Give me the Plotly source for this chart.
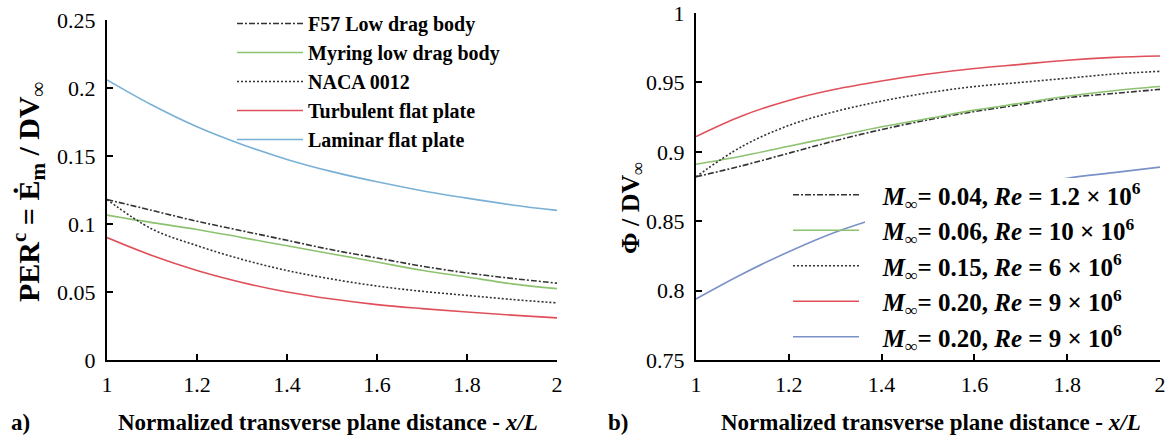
import plotly.graph_objects as go

W, H = 1172, 441
SERIF = "Liberation Serif, Times New Roman, serif"

# ---------------- data ----------------
x_vals = [1.0, 1.1, 1.2, 1.3, 1.4, 1.5, 1.6, 1.7, 1.8, 1.9, 2.0]

# panel a) PER^c
per_f57 = [0.118, 0.110, 0.102, 0.095, 0.088, 0.081, 0.075, 0.069, 0.064, 0.060, 0.0565]
per_myring = [0.1065, 0.101, 0.096, 0.090, 0.084, 0.078, 0.072, 0.066, 0.061, 0.056, 0.0525]
per_naca = [0.118, 0.0963, 0.0841, 0.0740, 0.0658, 0.0595, 0.0544, 0.0505, 0.0475, 0.0445, 0.042]
per_turb = [0.090, 0.0768, 0.0658, 0.057, 0.050, 0.0448, 0.0407, 0.0378, 0.0353, 0.033, 0.031]
per_lam = [0.206, 0.1875, 0.1715, 0.1585, 0.1475, 0.1385, 0.131, 0.1245, 0.119, 0.114, 0.110]

# panel b) Phi / DV
phi_m004 = [0.882, 0.890, 0.899, 0.908, 0.916, 0.923, 0.929, 0.934, 0.939, 0.942, 0.945]
phi_m006 = [0.891, 0.897, 0.904, 0.911, 0.918, 0.924, 0.930, 0.935, 0.940, 0.944, 0.947]
phi_m015 = [0.882, 0.904, 0.919, 0.929, 0.9365, 0.9425, 0.947, 0.950, 0.953, 0.956, 0.958]
phi_m020_red = [0.911, 0.926, 0.937, 0.945, 0.951, 0.956, 0.960, 0.963, 0.966, 0.968, 0.969]
phi_m020_blue = [0.794, 0.812, 0.828, 0.842, 0.853, 0.862, 0.870, 0.876, 0.881, 0.885, 0.889]

names_a = ["F57 Low drag body", "Myring low drag body", "NACA 0012",
           "Turbulent flat plate", "Laminar flat plate"]
names_b = [("0.04", "1.2"), ("0.06", "10"), ("0.15", "6"), ("0.20", "9"), ("0.20", "9")]

DASHDOT = "6px,2px,2px,2px"
DOT = "2px,2px"
styles = [
    dict(color="#333333", dash=DASHDOT, width=1.6),
    dict(color="#8dc26f", dash="solid", width=1.6),
    dict(color="#333333", dash=DOT, width=1.6),
    dict(color="#e0505a", dash="solid", width=1.6),
    dict(color="#79b0d6", dash="solid", width=1.6),
]
styles_b = [dict(s) for s in styles]
styles_b[4]["color"] = "#7a92c8"

fig = go.Figure()

series_a = [per_f57, per_myring, per_naca, per_turb, per_lam]
for name, ys, st in zip(names_a, series_a, styles):
    fig.add_trace(go.Scatter(
        x=x_vals, y=ys, mode="lines", line=dict(shape="spline", **st),
        name="<b>" + name + "</b>", xaxis="x", yaxis="y", legend="legend"))

series_b = [phi_m004, phi_m006, phi_m015, phi_m020_red, phi_m020_blue]
for (m, re), ys, st in zip(names_b, series_b, styles_b):
    label = ("\u00a0\u00a0\u00a0<b><i>M</i><sub>\u221e</sub>= " + m + ", <i>Re</i> = "
             + re + " \u00d7 10<sup>6</sup></b>")
    fig.add_trace(go.Scatter(
        x=x_vals, y=ys, mode="lines", line=dict(shape="spline", **st),
        name=label, xaxis="x2", yaxis="y2", legend="legend2"))

ax_common = dict(
    showline=True, linecolor="black", linewidth=2, showgrid=False, zeroline=False,
    ticks="inside", ticklen=6, tickwidth=2, tickcolor="black", automargin=False,
    tickfont=dict(family=SERIF, size=22, color="black"),
)

ydom = [(H - 360) / H, (H - 20) / H]
ydom2 = [(H - 360) / H, (H - 13) / H]

fig.update_layout(
    template="none",
    width=W, height=H,
    margin=dict(l=0, r=0, t=0, b=0, pad=0),
    paper_bgcolor="white", plot_bgcolor="white",
    showlegend=True,
    xaxis=dict(domain=[107 / W, 557 / W], range=[1, 2], dtick=0.2, anchor="y",
               ticklabelstandoff=4, **ax_common),
    yaxis=dict(domain=ydom, range=[0, 0.25], dtick=0.05, anchor="x",
               ticklabelstandoff=5, **ax_common),
    xaxis2=dict(domain=[696 / W, 1160 / W], range=[1, 2], dtick=0.2, anchor="y2",
                ticklabelstandoff=4, **ax_common),
    yaxis2=dict(domain=ydom2, range=[0.75, 1.0], dtick=0.05, anchor="x2",
                ticklabelstandoff=5, **ax_common),
    legend=dict(x=232 / W, y=1 - 4 / H, xanchor="left", yanchor="top",
                bgcolor="rgba(0,0,0,0)", borderwidth=0, itemwidth=66,
                font=dict(family=SERIF, size=20, color="black")),
    legend2=dict(x=788 / W, y=1 - 172 / H, xanchor="left", yanchor="top",
                 bgcolor="rgba(0,0,0,0)", borderwidth=0, itemwidth=66,
                 font=dict(family=SERIF, size=25, color="black")),
    shapes=[dict(type="rect", xref="paper", yref="paper",
                 x0=865 / W, x1=1136 / W, y0=(H - 352) / H, y1=(H - 178) / H,
                 fillcolor="white", line=dict(width=0), layer="above")],
)

title_font = dict(family=SERIF, size=23, color="black")
xt = "<b>Normalized transverse plane distance - <i>x/L</i></b>"
annots = [
    dict(text=xt, xref="paper", yref="paper", x=328 / W, y=(H - 422) / H,
         showarrow=False, font=title_font, xanchor="center", yanchor="middle"),
    dict(text=xt, xref="paper", yref="paper", x=931 / W, y=(H - 422) / H,
         showarrow=False, font=title_font, xanchor="center", yanchor="middle"),
    dict(text="<b>a)</b>", xref="paper", yref="paper", x=20 / W, y=(H - 422) / H,
         showarrow=False, font=title_font, xanchor="center", yanchor="middle"),
    dict(text="<b>b)</b>", xref="paper", yref="paper", x=618 / W, y=(H - 422) / H,
         showarrow=False, font=title_font, xanchor="center", yanchor="middle"),
    dict(text="<b>PER<sup>c</sup> = \u0116<sub>m</sub> / DV<sub>\u221e</sub></b>",
         xref="paper", yref="paper", x=28 / W, y=(H - 192) / H, textangle=-90,
         showarrow=False, font=dict(family=SERIF, size=30, color="black"),
         xanchor="center", yanchor="middle"),
    dict(text="<b>\u03a6 / DV<sub>\u221e</sub></b>",
         xref="paper", yref="paper", x=632 / W, y=(H - 208) / H, textangle=-90,
         showarrow=False, font=dict(family=SERIF, size=26, color="black"),
         xanchor="center", yanchor="middle"),
]
fig.update_layout(annotations=annots)

fig.write_html("out.html")
